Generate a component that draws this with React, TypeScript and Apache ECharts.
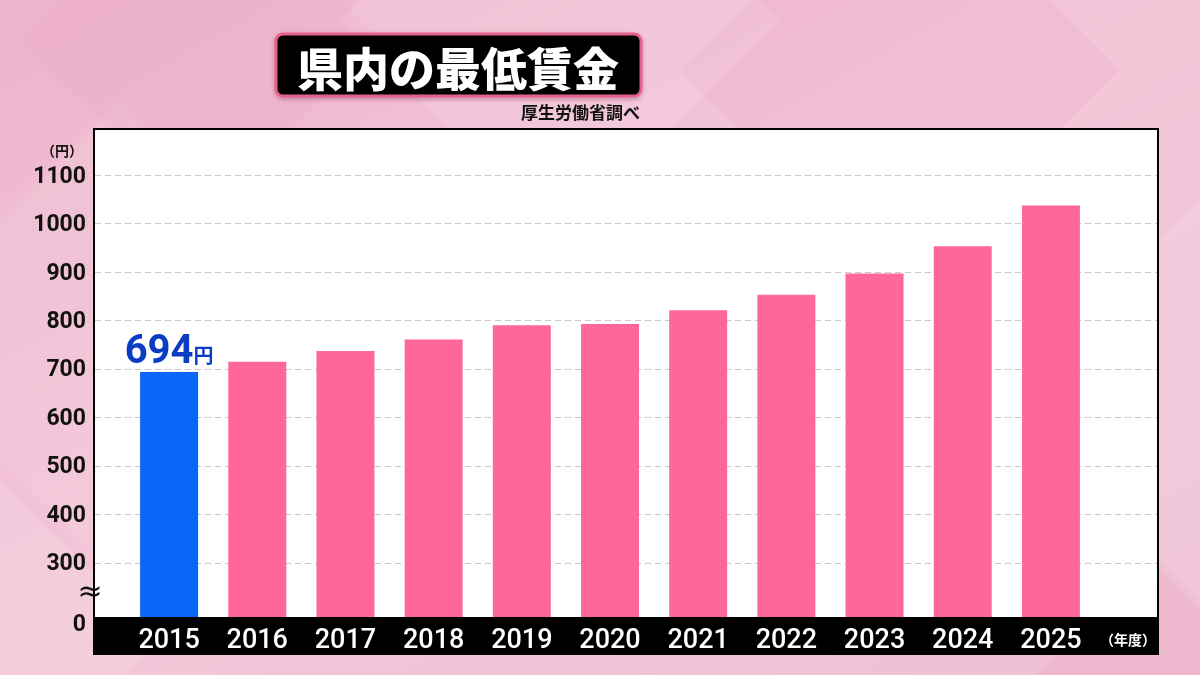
import React, { useEffect, useRef } from 'react';
import * as echarts from 'echarts';

const years = ['2015', '2016', '2017', '2018', '2019', '2020', '2021', '2022', '2023', '2024', '2025'];
const wages = [694, 715, 737, 761, 790, 793, 821, 853, 897, 953, 1037];
const yTickValues = [300, 400, 500, 600, 700, 800, 900, 1000, 1100];
const axisFloor = 176; // broken axis floor, labelled "0"
const axisTop = 1195;
const titleText = '県内の最低賃金';
const sourceText = '厚生労働省調べ';
const yUnit = '（円）';
const xUnit = '（年度）';
const highlightUnit = '円';

const BLUE = '#0a66f7';
const PINK = '#fe6797';
const LABEL_BLUE = '#0b3cc4';
const CJK = "'Noto Sans CJK JP', 'Noto Sans', sans-serif";

export default function App() {
  const ref = useRef<HTMLDivElement>(null);
  useEffect(() => {
    const chart = echarts.init(ref.current!, null, { renderer: 'svg' });
    const diamonds = [
      { pts: [[-120, 340], [120, 100], [360, 340], [120, 580]], c: 'rgba(255,255,255,0.10)' },
      { pts: [[0, 480], [160, 640], [0, 800], [-160, 640]], c: 'rgba(255,255,255,0.14)' },
      { pts: [[560, -200], [780, 20], [560, 240], [340, 20]], c: 'rgba(255,255,255,0.12)' },
      { pts: [[900, -150], [1120, 70], [900, 290], [680, 70]], c: 'rgba(230,140,175,0.10)' },
      { pts: [[1200, 200], [1400, 400], [1200, 600], [1000, 400]], c: 'rgba(255,255,255,0.12)' },
      { pts: [[1150, 560], [1300, 710], [1150, 860], [1000, 710]], c: 'rgba(230,140,175,0.12)' },
      { pts: [[200, -140], [380, 40], [200, 220], [20, 40]], c: 'rgba(230,140,175,0.10)' },
    ];
    chart.setOption({
      animation: false,
      graphic: [
        {
          type: 'rect', z: -20, silent: true,
          shape: { x: 0, y: 0, width: 1200, height: 675 },
          style: {
            fill: new echarts.graphic.LinearGradient(0, 0, 1, 1, [
              { offset: 0, color: '#eeb4cc' },
              { offset: 0.5, color: '#f3c6d8' },
              { offset: 1, color: '#efbfd3' },
            ]),
          },
        },
        ...diamonds.map((d) => ({
          type: 'polygon', z: -19, silent: true,
          shape: { points: d.pts }, style: { fill: d.c },
        })),
        {
          type: 'rect', z: -10, silent: true,
          shape: { x: 94, y: 129, width: 1064, height: 525 },
          style: { fill: '#ffffff' },
        },
        {
          type: 'rect', z: 10, silent: true,
          shape: { x: 94, y: 617, width: 1064, height: 37 },
          style: { fill: '#000000' },
        },
        {
          type: 'rect', z: 10, silent: true,
          shape: { x: 94, y: 129, width: 1064, height: 525 },
          style: { fill: 'none', stroke: '#000000', lineWidth: 2 },
        },
        {
          type: 'text', z: 11, silent: true, x: 90, y: 590,
          style: { text: '≈', fill: '#111', font: '30px DejaVu Sans', align: 'center', verticalAlign: 'middle' },
        },
        {
          type: 'rect', z: 12, silent: true,
          shape: { x: 276, y: 34, width: 365, height: 62, r: 7 },
          style: { fill: '#000000', stroke: '#e5608f', lineWidth: 3, shadowBlur: 4, shadowColor: 'rgba(120,30,60,0.35)', shadowOffsetY: 2 },
        },
        {
          type: 'text', z: 13, silent: true, x: 458, y: 66,
          style: { text: titleText, fill: '#ffffff', font: `900 46px ${CJK}`, align: 'center', verticalAlign: 'middle' },
        },
        {
          type: 'text', z: 13, silent: true, x: 640, y: 111,
          style: { text: sourceText, fill: '#111111', font: `bold 17px ${CJK}`, align: 'right', verticalAlign: 'middle' },
        },
        {
          type: 'text', z: 13, silent: true, x: 62, y: 150,
          style: { text: yUnit, fill: '#111111', font: `bold 14px ${CJK}`, align: 'center', verticalAlign: 'middle', lineHeight: 14 },
        },
        {
          type: 'text', z: 13, silent: true, x: 1128, y: 639,
          style: { text: xUnit, fill: '#ffffff', font: `bold 14px ${CJK}`, align: 'center', verticalAlign: 'middle' },
        },
      ],
      grid: [
        { left: 95, right: 43, top: 129, bottom: 52 },
        { left: 125, right: 105, top: 129, bottom: 52 },
      ],
      xAxis: [
        { gridIndex: 0, type: 'value', min: 0, max: 1, show: false },
        {
          gridIndex: 1, type: 'category', data: years, z: 12,
          axisLine: { show: false }, axisTick: { show: false },
          axisLabel: { interval: 0, color: '#ffffff', fontSize: 27, fontWeight: 500, fontFamily: 'Roboto', margin: 1, lineHeight: 30 },
        },
      ],
      yAxis: [
        {
          gridIndex: 0, type: 'value', min: axisFloor, max: axisTop, z: 1,
          axisLine: { show: false },
          axisTick: { show: false, customValues: [axisFloor, ...yTickValues] },
          axisLabel: {
            customValues: [axisFloor, ...yTickValues],
            formatter: (v: number) => (v === axisFloor ? '0' : String(v)),
            color: '#111111', fontSize: 23, fontWeight: 'bold', fontFamily: 'Roboto', margin: 9, lineHeight: 20,
          },
          splitLine: { show: true, lineStyle: { type: [6, 4], color: '#c8c8c8', width: 1 } },
        },
        { gridIndex: 1, type: 'value', min: axisFloor, max: axisTop, show: false, splitLine: { show: false } },
      ],
      series: [
        {
          type: 'bar', xAxisIndex: 1, yAxisIndex: 1, barWidth: 58, z: 5,
          itemStyle: { color: PINK },
          data: wages.map((v, i) =>
            i === 0
              ? {
                  value: v,
                  itemStyle: { color: BLUE },
                  label: {
                    show: true, position: 'top', distance: 2,
                    formatter: `{a|{c}}{b|${highlightUnit}}`,
                    rich: {
                      a: { fontSize: 40, fontWeight: 'bold', color: LABEL_BLUE, fontFamily: 'Roboto' },
                      b: { fontSize: 20, fontWeight: 'bold', color: LABEL_BLUE, fontFamily: CJK, padding: [10, 0, 0, 0] },
                    },
                  },
                }
              : v
          ),
        },
      ],
    });
    return () => chart.dispose();
  }, []);
  return <div ref={ref} style={{ position: 'fixed', left: 0, top: 0, width: 1200, height: 675 }} />;
}
